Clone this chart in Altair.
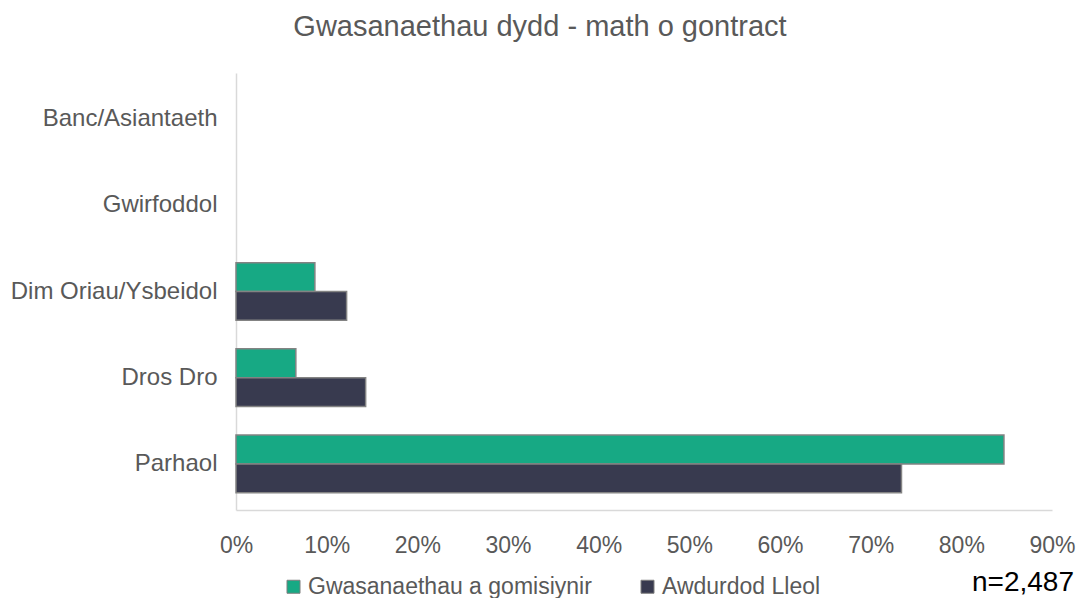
import altair as alt
import pandas as pd

categories = ["Banc/Asiantaeth", "Gwirfoddol", "Dim Oriau/Ysbeidol", "Dros Dro", "Parhaol"]
series_names = ["Gwasanaethau a gomisiynir", "Awdurdod Lleol"]
commissioned = [0, 0, 8.7, 6.6, 84.7]
local_auth = [0, 0, 12.2, 14.3, 73.4]
x_ticks = [0, 10, 20, 30, 40, 50, 60, 70, 80, 90]
colors = ["#17A984", "#383A4F"]

rows = []
for c, a, b in zip(categories, commissioned, local_auth):
    rows.append({"cat": c, "series": series_names[0], "value": a})
    rows.append({"cat": c, "series": series_names[1], "value": b})
df = pd.DataFrame(rows)

font = "Liberation Sans"
grey = "#595959"

bars = alt.Chart(df).mark_bar(stroke="#838383").encode(
    y=alt.Y("cat:N", sort=categories, title=None,
            scale=alt.Scale(paddingInner=0.33),
            axis=alt.Axis(labelFont=font, labelFontSize=24, labelColor=grey,
                          labelPadding=19, ticks=False, domainColor="#D9D9D9",
                          domainWidth=1.5, labelLimit=400)),
    yOffset=alt.YOffset("series:N", sort=series_names),
    x=alt.X("value:Q", title=None,
            scale=alt.Scale(domain=[0, 90], nice=False),
            axis=alt.Axis(values=x_ticks, labelExpr="datum.value + '%'",
                          labelFont=font, labelFontSize=23, labelColor=grey,
                          labelPadding=24, ticks=False, grid=False, labelFlush=False,
                          domainColor="#D9D9D9", domainWidth=1.5)),
    color=alt.Color("series:N", sort=series_names,
                    scale=alt.Scale(domain=series_names, range=colors),
                    legend=alt.Legend(title=None, orient="none", direction="horizontal",
                                      legendX=46, legendY=502,
                                      labelFont=font, labelFontSize=23, labelColor=grey,
                                      labelLimit=400,
                                      symbolType="square", symbolSize=169,
                                      symbolStrokeColor="#7F7F7F", symbolStrokeWidth=1,
                                      labelOffset=3, columnPadding=44)),
    strokeWidth=alt.condition("datum.value > 0", alt.value(1.5), alt.value(0)),
)

note = alt.Chart(pd.DataFrame({"t": ["n=2,487"]})).mark_text(
    font=font, fontSize=28, color="#000000", align="right", baseline="middle"
).encode(text="t:N", x=alt.value(838), y=alt.value(510))

chart = alt.layer(bars, note).properties(
    width=816, height=437,
    autosize=alt.AutoSizeParams(type="none"),
    padding={"left": 228, "top": 65, "right": 24, "bottom": 88},
    title=alt.TitleParams("Gwasanaethau dydd - math o gontract", font=font, fontSize=29,
                          color=grey, fontWeight="normal", anchor="middle",
                          dx=-104, offset=31),
).configure_view(stroke=None)

chart.save("out.html", embed_options={"renderer": "svg", "actions": False})
